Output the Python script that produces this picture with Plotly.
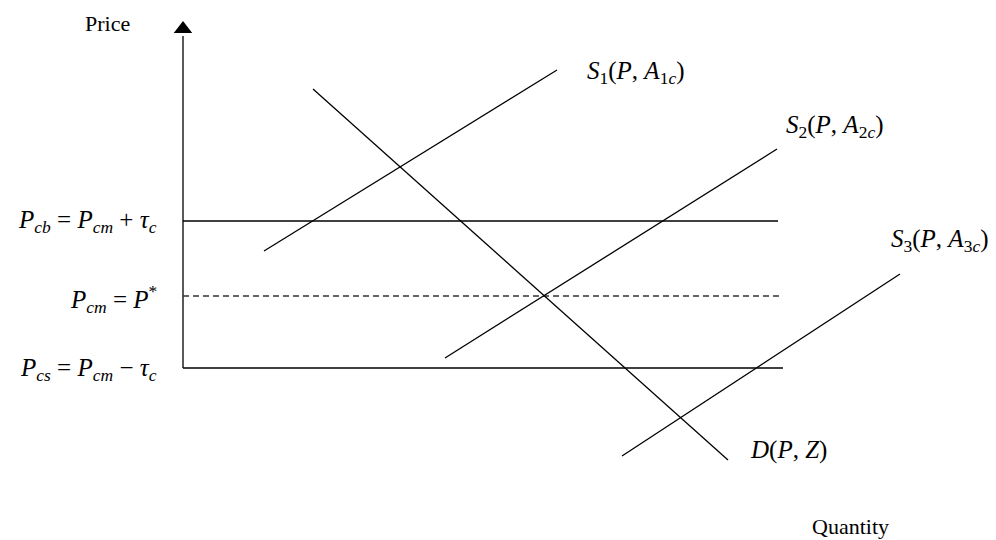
import plotly.graph_objects as go

# schematic units: quantity along x, price along y (origin at the axis corner)
AXIS_TOP = 33.2
ARROW_AT = 33.9

# horizontal price levels
LEVEL_PRICES = [14.7, 7.2, 0.0]
LEVEL_ENDS = [59.5, 60.0, 60.0]
LEVEL_DASH = ["solid", "6px,4px", "solid"]
LEVEL_LABEL_Y = [14.7, 6.9, -0.1]

# curve endpoints (quantity, price)
S1_Q = [8.1, 37.4]
S1_P = [11.7, 29.8]
S2_Q = [26.2, 59.4]
S2_P = [1.0, 21.9]
S3_Q = [43.9, 71.7]
S3_P = [-8.8, 9.4]
D_Q = [13.0, 54.5]
D_P = [27.9, -9.2]

MATH_FONT = dict(family="Liberation Serif", size=25, color="black")
PLAIN_FONT = dict(family="Liberation Serif", size=22, color="black")

LINE = dict(color="black", width=1.3)

fig = go.Figure()

# price axis with arrow head
fig.add_trace(go.Scatter(x=[0, 0], y=[0, AXIS_TOP], mode="lines", line=LINE))
fig.add_trace(go.Scatter(x=[0], y=[ARROW_AT], mode="markers",
                         marker=dict(symbol="triangle-up", size=16, color="black")))

for price, end, dash in zip(LEVEL_PRICES, LEVEL_ENDS, LEVEL_DASH):
    fig.add_trace(go.Scatter(x=[0, end], y=[price, price], mode="lines",
                             line=dict(color="black" if dash == "solid" else "#333",
                                       width=1.3, dash=dash)))

for q, p in [(S1_Q, S1_P), (S2_Q, S2_P), (S3_Q, S3_P), (D_Q, D_P)]:
    fig.add_trace(go.Scatter(x=q, y=p, mode="lines", line=LINE))

level_labels = [
    "<i>P<sub>cb</sub></i> = <i>P<sub>cm</sub></i> + <i>τ<sub>c</sub></i>",
    "<i>P<sub>cm</sub></i> = <i>P</i><sup>*</sup>",
    "<i>P<sub>cs</sub></i> = <i>P<sub>cm</sub></i> − <i>τ<sub>c</sub></i>",
]
for text, ly in zip(level_labels, LEVEL_LABEL_Y):
    fig.add_annotation(x=-2.4, y=ly, text=text, showarrow=False,
                       xanchor="right", yanchor="middle", font=MATH_FONT)

curve_labels = [
    ("<i>S</i><sub>1</sub>(<i>P</i>, <i>A</i><sub>1<i>c</i></sub>)", 40.2, 29.6),
    ("<i>S</i><sub>2</sub>(<i>P</i>, <i>A</i><sub>2<i>c</i></sub>)", 60.1, 24.2),
    ("<i>S</i><sub>3</sub>(<i>P</i>, <i>A</i><sub>3<i>c</i></sub>)", 70.6, 12.8),
    ("<i>D</i>(<i>P</i>, <i>Z</i>)", 56.5, -8.2),
]
for text, q, p in curve_labels:
    fig.add_annotation(x=q, y=p, text=text, showarrow=False,
                       xanchor="left", yanchor="middle", font=MATH_FONT)

fig.add_annotation(x=-7.6, y=34.5, text="Price", showarrow=False,
                   xanchor="center", yanchor="middle", font=PLAIN_FONT)
fig.add_annotation(x=66.7, y=-15.8, text="Quantity", showarrow=False,
                   xanchor="center", yanchor="middle", font=PLAIN_FONT)

fig.update_layout(
    width=988,
    height=532,
    showlegend=False,
    plot_bgcolor="white",
    paper_bgcolor="white",
    margin=dict(l=0, r=0, t=0, b=0),
)
fig.update_xaxes(range=[-17.5, 81.3], visible=False)
fig.update_yaxes(range=[-17.2, 36.0], visible=False)

fig.write_html("out.html")
